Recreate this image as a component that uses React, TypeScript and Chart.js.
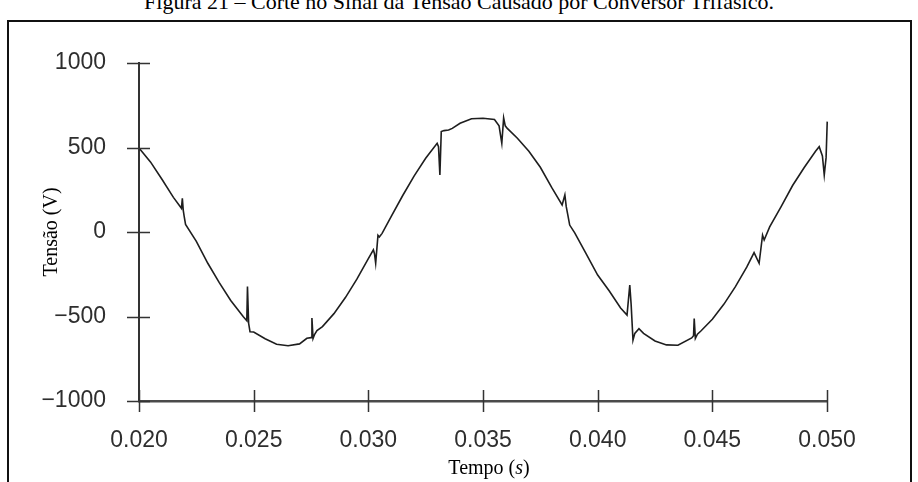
import React, { useEffect, useRef } from 'react';
import { Chart, registerables } from 'chart.js';

Chart.register(...registerables);

// Time (s) samples
const times = [
  0.0200, 0.0205, 0.0210, 0.0215, 0.02185, 0.02189, 0.02193, 0.02197, 0.02203,
  0.0225, 0.0230, 0.0235, 0.0240, 0.02455, 0.02470, 0.02473, 0.02478, 0.02484, 0.0250,
  0.0255, 0.0260, 0.0265, 0.0270, 0.02732, 0.02750, 0.02754, 0.02759, 0.02766, 0.02776,
  0.0280, 0.0285, 0.0290, 0.0295, 0.0300, 0.03022, 0.03027, 0.03032, 0.03042, 0.03048, 0.0306,
  0.0310, 0.0315, 0.0320, 0.0325, 0.0330, 0.03306, 0.03312, 0.03318, 0.0333, 0.0335, 0.03366,
  0.0340, 0.0345, 0.0350, 0.0355, 0.0357, 0.03582, 0.0359, 0.03597, 0.03606,
  0.0365, 0.0370, 0.0375, 0.0380, 0.03845, 0.03857, 0.03863, 0.0387, 0.03878,
  0.0390, 0.0395, 0.0400, 0.0405, 0.0410, 0.04128, 0.0414, 0.04146, 0.04154, 0.04162, 0.0418,
  0.0420, 0.0425, 0.0430, 0.0435, 0.0441, 0.04418, 0.04421, 0.04426, 0.04435,
  0.0445, 0.0450, 0.0455, 0.0460, 0.0465, 0.04682, 0.04704, 0.04719, 0.04726,
  0.0475, 0.0480, 0.0485, 0.0490, 0.0495, 0.04966, 0.0498, 0.04988, 0.04996, 0.05001, 0.05004, 0.05008,
];

// Voltage (V), one per time sample
const volts = [
  497, 415, 312, 205, 140, 200, 128, 92, 45,
  -55, -185, -300, -405, -501, -525, -323, -540, -590, -592,
  -632, -664, -673, -662, -629, -625, -509, -630, -605, -583,
  -560, -483, -388, -279, -158, -105, -130, -185, -20, -30, -8,
  93, 216, 332, 436, 525, 505, 337, 594, 600, 603, 613,
  643, 670, 673, 666, 628, 525, 675, 628, 613,
  555, 478, 383, 262, 160, 219, 150, 100, 41,
  -5, -130, -255, -348, -450, -492, -314, -430, -640, -600, -572,
  -600, -645, -668, -670, -627, -614, -512, -630, -605,
  -586, -516, -428, -325, -208, -122, -185, -18, -47,
  30, 150, 275, 380, 478, 505, 450, 337, 440, 653, 545, 580,
];

const xTickValues = [0.020, 0.025, 0.030, 0.035, 0.040, 0.045, 0.050];
const xTickLabels = ['0.020', '0.025', '0.030', '0.035', '0.040', '0.045', '0.050'];
const yTickValues = [-1000, -500, 0, 500, 1000];
const yTickLabels = ['\u22121000', '\u2212500', '0', '500', '1000'];

const captionText = 'Figura 21 \u2013 Corte no Sinal da Tens\u00e3o Causado por Conversor Trif\u00e1sico.';
const yTitleText = 'Tens\u00e3o (V)';

const crossTicks = {
  id: 'crossTicks',
  afterDraw(chart: any) {
    const ctx = chart.ctx;
    const xs = chart.scales.x;
    const ys = chart.scales.y;
    ctx.save();
    ctx.strokeStyle = '#333';
    ctx.lineWidth = 1.5;
    ctx.beginPath();
    xTickValues.forEach((v) => {
      const px = Math.round(xs.getPixelForValue(v)) + 0.5;
      ctx.moveTo(px, xs.top - 11);
      ctx.lineTo(px, xs.top + 11);
    });
    yTickValues.forEach((v) => {
      const py = Math.round(ys.getPixelForValue(v)) + 0.5;
      ctx.moveTo(ys.right - 12, py);
      ctx.lineTo(ys.right + 11, py);
    });
    ctx.stroke();
    ctx.restore();
  },
};

export default function App() {
  const canvasRef = useRef<HTMLCanvasElement>(null);

  useEffect(() => {
    const canvas = canvasRef.current;
    if (!canvas) return;
    const points = times.map((t, i) => ({ x: t, y: volts[i] }));
    const chart = new Chart(canvas, {
      type: 'line',
      data: {
        datasets: [
          {
            data: points,
            borderColor: '#1e1e1e',
            borderWidth: 1.6,
            pointRadius: 0,
            tension: 0,
            fill: false,
            clip: false as any,
          },
        ],
      },
      options: {
        animation: false,
        responsive: false,
        devicePixelRatio: 1,
        layout: { padding: { left: 0, top: 63, right: 91, bottom: 0 } },
        plugins: {
          legend: { display: false },
          tooltip: { enabled: false },
          title: { display: false },
        },
        scales: {
          x: {
            type: 'linear',
            min: 0.02,
            max: 0.05,
            afterBuildTicks: (scale: any) => {
              scale.ticks = xTickValues.map((v) => ({ value: v }));
            },
            afterFit: (scale: any) => {
              scale.height = 81;
            },
            grid: { display: false },
            border: { display: true, color: '#4a4a4a', width: 2.5 },
            ticks: {
              autoSkip: false,
              maxRotation: 0,
              minRotation: 0,
              padding: 18,
              color: '#2e2e2e',
              font: { family: '"Liberation Sans", Arial, sans-serif', size: 23 },
              callback: (_v: any, i: number) => xTickLabels[i],
            },
          },
          y: {
            type: 'linear',
            min: -1000,
            max: 1000,
            afterBuildTicks: (scale: any) => {
              scale.ticks = yTickValues.map((v) => ({ value: v }));
            },
            afterFit: (scale: any) => {
              scale.width = 139;
            },
            grid: { display: false },
            border: { display: true, color: '#333', width: 2 },
            ticks: {
              autoSkip: false,
              padding: 25,
              color: '#2e2e2e',
              font: { family: '"Liberation Sans", Arial, sans-serif', size: 23 },
              callback: (_v: any, i: number) => yTickLabels[i],
            },
            title: {
              display: true,
              text: yTitleText,
              color: '#000',
              font: { family: '"Liberation Serif", "Times New Roman", serif', size: 20 },
              padding: { top: 40, bottom: 0 },
            },
          },
        },
      },
      plugins: [crossTicks],
    });
    return () => chart.destroy();
  }, []);

  return (
    <div
      style={{
        position: 'fixed',
        left: 0,
        top: 0,
        width: 918,
        height: 482,
        overflow: 'hidden',
        background: '#fff',
      }}
    >
      <div
        style={{
          position: 'absolute',
          left: 459,
          top: -9,
          transform: 'translateX(-50%)',
          whiteSpace: 'nowrap',
          fontFamily: '"Liberation Serif", "Times New Roman", serif',
          fontSize: 22,
          lineHeight: '22px',
          color: '#000',
        }}
      >
        {captionText}
      </div>
      <div
        style={{
          position: 'absolute',
          left: 7,
          top: 20,
          width: 905,
          height: 480,
          border: '2px solid #111',
          boxSizing: 'border-box',
        }}
      />
      <canvas
        ref={canvasRef}
        width={918}
        height={482}
        style={{ position: 'absolute', left: 0, top: 0, width: 918, height: 482 }}
      />
      <div
        style={{
          position: 'absolute',
          left: 489,
          top: 457,
          transform: 'translateX(-50%)',
          whiteSpace: 'nowrap',
          fontFamily: '"Liberation Serif", "Times New Roman", serif',
          fontSize: 20,
          lineHeight: '20px',
          color: '#000',
        }}
      >
        Tempo (<i>s</i>)
      </div>
    </div>
  );
}
